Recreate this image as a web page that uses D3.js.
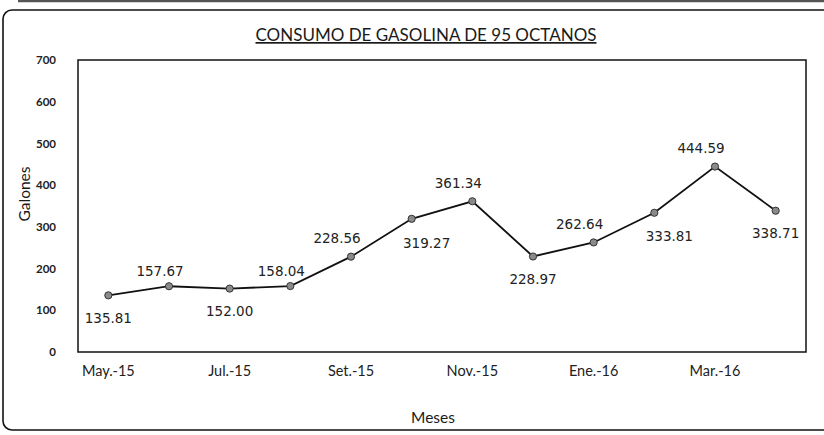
<!DOCTYPE html>
<html>
<head>
<meta charset="utf-8">
<script src="https://cdn.jsdelivr.net/npm/d3@7"></script>
<style>
  body { margin: 0; background: #fff; }
  svg { display: block; }
  text { fill: #1a1a1a; }
</style>
</head>
<body>
<div id="chart"></div>
<script>
// datos
var meses = ["May.-15", "Jun.-15", "Jul.-15", "Ago.-15", "Set.-15", "Oct.-15",
             "Nov.-15", "Dic.-15", "Ene.-16", "Feb.-16", "Mar.-16", "Abr.-16"];
var galones = [135.81, 157.67, 152.00, 158.04, 228.56, 319.27,
               361.34, 228.97, 262.64, 333.81, 444.59, 338.71];
var yTicks = [0, 100, 200, 300, 400, 500, 600, 700];
var xTickLabels = ["May.-15", "Jul.-15", "Set.-15", "Nov.-15", "Ene.-16", "Mar.-16"];
// donde va cada etiqueta respecto al punto
var labelPos = ["below", "above", "below", "above", "aboveLeft", "belowRight",
                "aboveLeft", "below", "aboveLeft", "belowRight", "aboveLeft", "below"];

var width = 824,
    height = 435,
    margin = {top: 60, right: 18, bottom: 83, left: 78};

var offsets = {
  above:      [-9, -15],
  below:      [0, 23],
  aboveLeft:  [-14, -18],
  belowRight: [15, 24]
};

var svg = d3.select('#chart')
  .append('svg')
  .attr('width', width)
  .attr('height', height);

// marco exterior (recortado a la derecha como en el original)
svg.append('line')
  .attr('x1', 18).attr('x2', width).attr('y1', 1).attr('y2', 1)
  .attr('stroke', '#555').attr('stroke-width', 2.5);
svg.append('rect')
  .attr('x', 3).attr('y', 10)
  .attr('width', width + 20).attr('height', 420)
  .attr('rx', 9)
  .attr('fill', 'none')
  .attr('stroke', '#111')
  .attr('stroke-width', 1.6);

var plotW = width - margin.left - margin.right,
    plotH = height - margin.top - margin.bottom;

var g = svg.append('g')
  .attr('transform', 'translate(' + margin.left + ',' + margin.top + ')');

var x = d3.scaleBand()
  .domain(meses)
  .range([0, plotW])
  .padding(0);

var y = d3.scaleLinear()
  .domain([0, 700])
  .range([plotH, 0]);

// borde del area de trazado
g.append('rect')
  .attr('width', plotW)
  .attr('height', plotH)
  .attr('fill', 'none')
  .attr('stroke', '#111')
  .attr('stroke-width', 1.5);

var yAxis = g.append('g')
  .call(d3.axisLeft(y).tickValues(yTicks).tickSize(0).tickPadding(22));
yAxis.select('.domain').remove();
yAxis.selectAll('text')
  .attr('font-family', 'Lato, sans-serif')
  .attr('font-size', 11.5)
  .attr('font-weight', 'bold')
  .style('fill', '#222');

var xAxis = g.append('g')
  .attr('transform', 'translate(0,' + plotH + ')')
  .call(d3.axisBottom(x)
    .tickValues(xTickLabels.map(function(l) { return meses[meses.indexOf(l)]; }))
    .tickSize(0).tickPadding(14));
xAxis.select('.domain').remove();
xAxis.selectAll('text')
  .attr('font-family', 'Lato, sans-serif')
  .attr('font-size', 14.5)
  .style('fill', '#222');

var cx = function(d, i) { return x(meses[i]) + x.bandwidth() / 2; };

var line = d3.line()
  .x(function(d, i) { return cx(d, i); })
  .y(function(d) { return y(d); });

g.append('path')
  .datum(galones)
  .attr('d', line)
  .attr('fill', 'none')
  .attr('stroke', '#111')
  .attr('stroke-width', 1.8);

g.selectAll('circle.pt')
  .data(galones)
  .enter()
  .append('circle')
  .attr('class', 'pt')
  .attr('cx', cx)
  .attr('cy', function(d) { return y(d); })
  .attr('r', 3.6)
  .attr('fill', '#8a8a8a')
  .attr('stroke', '#333')
  .attr('stroke-width', 1);

g.selectAll('text.lbl')
  .data(galones)
  .enter()
  .append('text')
  .attr('class', 'lbl')
  .attr('x', function(d, i) { return cx(d, i) + offsets[labelPos[i]][0]; })
  .attr('y', function(d, i) { return y(d) + offsets[labelPos[i]][1]; })
  .attr('dy', '0.35em')
  .attr('text-anchor', 'middle')
  .attr('font-family', 'DejaVu Sans, sans-serif')
  .attr('font-size', 13.5)
  .style('fill', '#222')
  .text(function(d) { return d.toFixed(2); });

// titulo
svg.append('text')
  .attr('x', 426)
  .attr('y', 41)
  .attr('text-anchor', 'middle')
  .attr('font-family', 'Lato, sans-serif')
  .attr('font-size', 17)
  .attr('text-decoration', 'underline')
  .text('CONSUMO DE GASOLINA DE 95 OCTANOS');

svg.append('text')
  .attr('x', 433)
  .attr('y', 423)
  .attr('text-anchor', 'middle')
  .attr('font-family', 'Lato, sans-serif')
  .attr('font-size', 15.5)
  .text('Meses');

svg.append('text')
  .attr('transform', 'translate(30,194) rotate(-90)')
  .attr('text-anchor', 'middle')
  .attr('font-family', 'Lato, sans-serif')
  .attr('font-size', 15.5)
  .text('Galones');
</script>
</body>
</html>
